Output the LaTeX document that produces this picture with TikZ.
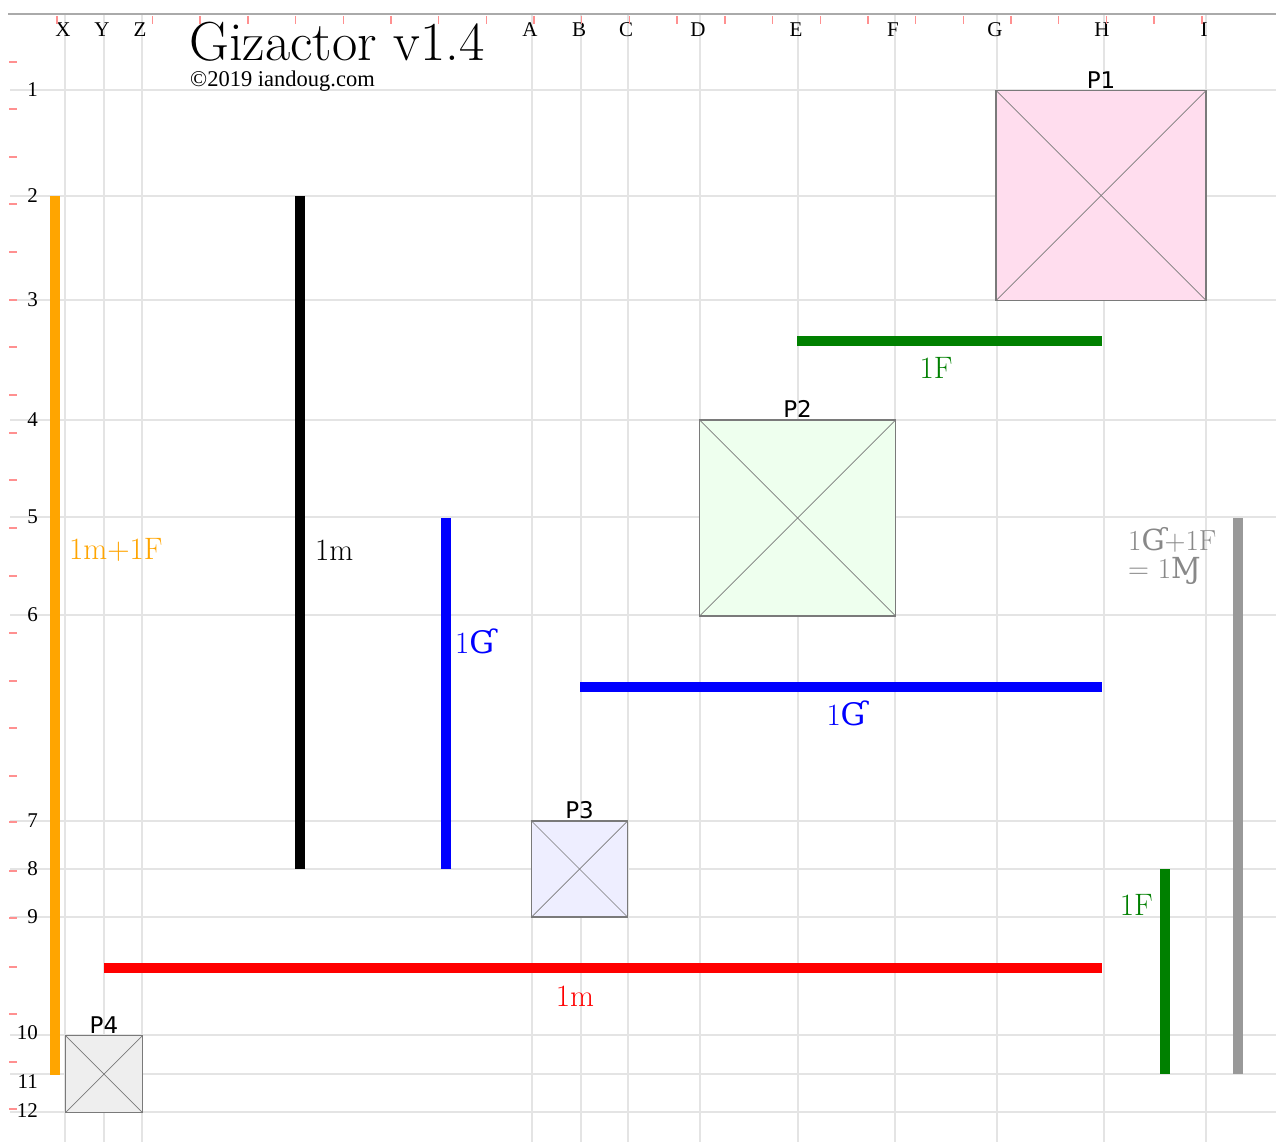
\documentclass[tikz,border=0pt]{standalone}
\usepackage{fontspec}
\usepackage{tikz}
\usetikzlibrary{positioning}
\newfontfamily\axisfont{Liberation Serif}
\newfontfamily\hookfont{DejaVu Serif}
\newfontfamily\plabelfont{DejaVu Sans}
\definecolor{gridgray}{HTML}{E4E4E4}
\definecolor{tickred}{HTML}{FF9090}
\definecolor{framegray}{HTML}{AAAAAA}
\definecolor{boxgray}{HTML}{7A7A7A}
\definecolor{barorange}{HTML}{FFA500}
\definecolor{bargreen}{HTML}{008000}
\definecolor{barblue}{HTML}{0000FF}
\definecolor{barred}{HTML}{FF0000}
\definecolor{bargray}{HTML}{999999}
\definecolor{textgray}{HTML}{888888}
\definecolor{pinkfill}{HTML}{FFDDEE}
\definecolor{greenfill}{HTML}{EEFFEE}
\definecolor{bluefill}{HTML}{EEEEFF}
\definecolor{grayfill}{HTML}{EEEEEE}
\newcommand{\hG}{{\hookfont Ɠ}}
\newcommand{\hM}{{\hookfont Ɱ}}

\begin{document}
\begin{tikzpicture}[x=1pt, y=-1pt,
      every node/.style={inner sep=0pt},
      gridline/.style={draw=gridgray, line width=1.3pt},
      tick/.style={draw=tickred, line width=1.4pt},
      axislabel/.style={font=\axisfont\fontsize{21}{22}\selectfont},
      bar/.style={line width=10pt},
      barlabel/.style={font=\fontsize{31}{32}\selectfont},
      pbox/.style={draw=boxgray, line width=1.3pt, minimum width=#1, minimum height=#1, outer sep=0pt},
      diag/.style={draw=boxgray, line width=0.7pt},
      plabel/.style={font=\plabelfont\fontsize{23}{24}\selectfont, inner sep=2pt}]

    \useasboundingbox (0, 0) rectangle (1276, 1142);
    \fill[white] (0, 0) rectangle (1276, 1142);

    % Grid
    \foreach \x/\name in {65/X, 104/Y, 142/Z, 532/A, 581/B, 628/C, 700/D, 798/E, 895/F, 997/G, 1104/H, 1206/I} {
      \draw[gridline] (\x, 14) -- (\x, 1142);
      \node[axislabel] at (\x - 2, 30) {\name};
    }
    \foreach \y/\name in {90/1, 196/2, 300/3, 420/4, 517/5, 615/6, 821/7, 869/8, 917/9, 1035/10, 1074/11, 1112/12} {
      \draw[gridline] (10, \y) -- (1276, \y);
    }
    \foreach \y/\name in {90/1, 196/2, 300/3, 420/4, 517/5, 615/6, 821/7, 869/8, 917/9, 1033/10, 1082/11, 1111/12}
      \node[axislabel, anchor=east] at (38, \y) {\name};
    \draw[draw=framegray, line width=1.3pt] (8, 14) -- (1276, 14);
    \foreach \k in {0, 2, 3, ..., 24}
      \draw[tick] (57 + 47.7*\k, 16) -- (57 + 47.7*\k, 24);
    \foreach \y in {62, 109, 157, 204, 252, 300, 347, 395, 433, 480, 528, 576,
                    633, 681, 728, 776, 822, 871, 918, 967, 1014, 1062, 1109}
      \draw[tick] (9, \y) -- (17, \y);

    % Title
    \node[anchor=base west, font=\fontsize{55}{56}\selectfont] (title) at (189, 61) {Gizactor v1.4};
    \node[anchor=base west, font=\axisfont\fontsize{22.5}{23}\selectfont] (credit) at (190, 87) {©2019 iandoug.com};

    % Boxes
    \node[pbox=210, fill=pinkfill] (p1) at (1101, 195.5) {};
    \node[pbox=196, fill=greenfill] (p2) at (797.5, 518) {};
    \node[pbox=96, fill=bluefill] (p3) at (579.5, 869) {};
    \node[pbox=77, fill=grayfill] (p4) at (104, 1074) {};
    \foreach \p/\name in {p1/P1, p2/P2, p3/P3, p4/P4} {
      \draw[diag] (\p.north west) -- (\p.south east);
      \draw[diag] (\p.north east) -- (\p.south west);
      \node[plabel, above=0pt of \p] {\name};
    }

    % Bars
    \draw[bar, barorange] (55, 196) -- (55, 1075);
    \draw[bar, black] (300, 196) -- (300, 869);
    \draw[bar, barblue] (446, 518) -- (446, 869);
    \draw[bar, bargreen] (797, 341) -- (1102, 341);
    \draw[bar, barblue] (580, 687) -- (1102, 687);
    \draw[bar, barred] (104, 968) -- (1102, 968);
    \draw[bar, bargreen] (1165, 869) -- (1165, 1074);
    \draw[bar, bargray] (1238, 518) -- (1238, 1074);

    \node[barlabel, text=barorange, anchor=west] (lorange) at (69, 550) {1m+1F};
    \node[barlabel, text=black, anchor=west] (lblack) at (315, 550) {1m};
    \node[barlabel, text=barblue, anchor=west] (lblue) at (455, 641) {1\hG};
    \node[barlabel, text=bargreen] (lgreen) at (936, 368) {1F};
    \node[barlabel, text=barblue] (lbluewide) at (846, 713) {1\hG};
    \node[barlabel, text=barred] (lred) at (575, 996) {1m};
    \node[barlabel, text=bargreen, anchor=east] (lgreenlow) at (1153, 905) {1F};
    \node[barlabel, text=textgray, anchor=north west, align=left,
      font=\fontsize{29}{28}\selectfont] (lgray) at (1128, 527) {1\hG+1F\\= 1\hM};
  \end{tikzpicture}
\end{document}
